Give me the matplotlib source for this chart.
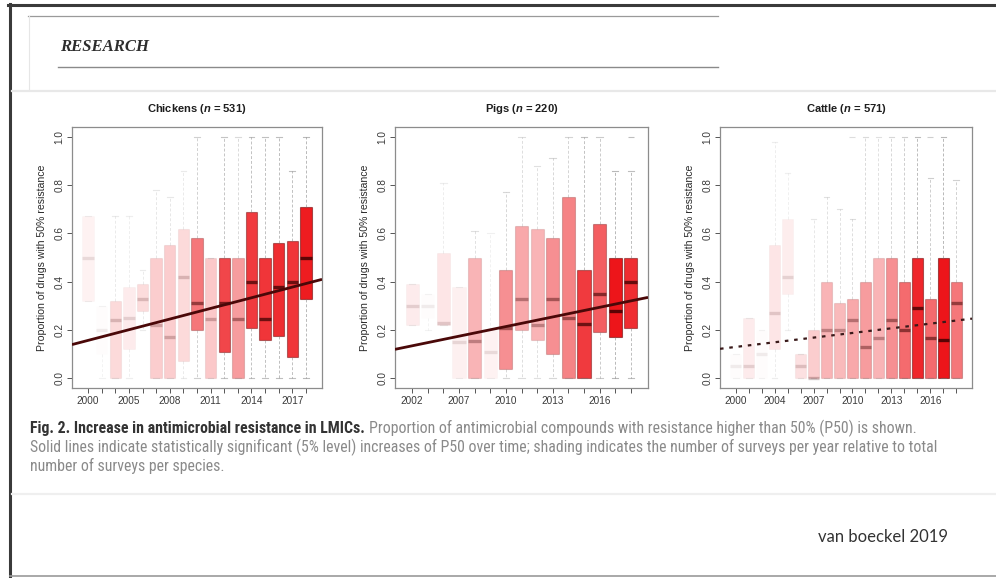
import matplotlib
matplotlib.use('Agg')
import matplotlib.pyplot as plt
from matplotlib.lines import Line2D
from matplotlib import font_manager
import numpy as np

W, H = 996, 578

# ---------------- data ----------------
chick_years = ['2000', '2003', '2004', '2005', '2006', '2007', '2008', '2009', '2010',
               '2011', '2012', '2013', '2014', '2015', '2016', '2017', '2018']
chick_lo    = [0.32, 0.00, 0.00, 0.00, 0.20, 0.00, 0.00, 0.00, 0.00, 0.00, 0.00, 0.00, 0.00, 0.00, 0.00, 0.00, 0.00]
chick_q1    = [0.32, 0.10, 0.00, 0.12, 0.28, 0.00, 0.00, 0.07, 0.20, 0.00, 0.11, 0.00, 0.21, 0.16, 0.175, 0.09, 0.33]
chick_med   = [0.50, 0.20, 0.24, 0.25, 0.33, 0.22, 0.17, 0.42, 0.31, 0.245, 0.31, 0.245, 0.40, 0.245, 0.38, 0.40, 0.50]
chick_q3    = [0.67, 0.30, 0.32, 0.38, 0.39, 0.50, 0.55, 0.62, 0.58, 0.50, 0.50, 0.50, 0.69, 0.50, 0.56, 0.57, 0.71]
chick_hi    = [0.67, 0.30, 0.67, 0.67, 0.45, 0.78, 0.75, 0.86, 1.00, 0.50, 1.00, 1.00, 1.00, 1.00, 1.00, 0.86, 1.00]
chick_out   = [[], [], [], [], [], [], [], [], [], [], [], [], [], [], [], [], []]
chick_shade = [0.05, 0.01, 0.15, 0.08, 0.14, 0.20, 0.20, 0.15, 0.55, 0.22, 0.75, 0.40, 0.80, 0.82, 0.85, 0.82, 0.92]
chick_trend = (0.157, 0.0147)     # fitted P50 at first position, slope per position

pig_years = ['2002', '2004', '2006', '2007', '2008', '2009', '2010', '2011', '2012',
             '2013', '2014', '2015', '2016', '2017', '2018']
pig_lo    = [0.22, 0.20, 0.22, 0.00, 0.00, 0.00, 0.00, 0.00, 0.00, 0.00, 0.00, 0.00, 0.00, 0.00, 0.00]
pig_q1    = [0.22, 0.25, 0.22, 0.00, 0.00, 0.00, 0.04, 0.20, 0.16, 0.10, 0.00, 0.00, 0.19, 0.17, 0.21]
pig_med   = [0.30, 0.30, 0.23, 0.15, 0.155, 0.11, 0.21, 0.33, 0.22, 0.33, 0.25, 0.225, 0.35, 0.28, 0.40]
pig_q3    = [0.39, 0.35, 0.52, 0.38, 0.50, 0.20, 0.45, 0.63, 0.62, 0.58, 0.75, 0.45, 0.64, 0.50, 0.50]
pig_hi    = [0.39, 0.35, 0.81, 0.38, 0.61, 0.60, 0.77, 1.00, 0.88, 0.91, 1.00, 1.00, 1.00, 0.86, 0.86]
pig_out   = [[], [], [], [], [], [], [], [], [], [], [], [], [], [], [1.0]]
pig_shade = [0.08, 0.01, 0.10, 0.06, 0.30, 0.05, 0.45, 0.35, 0.30, 0.45, 0.50, 0.80, 0.65, 0.95, 0.85]
pig_trend = (0.1346, 0.01327)

cattle_years = ['2000', '2002', '2003', '2004', '2005', '2006', '2007', '2008', '2009',
                '2010', '2011', '2012', '2013', '2014', '2015', '2016', '2017', '2018']
cattle_lo    = [0.00, 0.00, 0.00, 0.00, 0.20, 0.00, 0.00, 0.00, 0.00, 0.00, 0.00, 0.00, 0.00, 0.00, 0.00, 0.00, 0.00, 0.00]
cattle_q1    = [0.00, 0.00, 0.00, 0.12, 0.35, 0.00, 0.00, 0.00, 0.00, 0.00, 0.00, 0.00, 0.00, 0.00, 0.00, 0.00, 0.00, 0.00]
cattle_med   = [0.05, 0.05, 0.10, 0.27, 0.42, 0.05, 0.00, 0.20, 0.20, 0.24, 0.13, 0.165, 0.24, 0.20, 0.29, 0.165, 0.16, 0.31]
cattle_q3    = [0.10, 0.25, 0.20, 0.55, 0.66, 0.10, 0.20, 0.40, 0.31, 0.33, 0.40, 0.50, 0.50, 0.40, 0.50, 0.33, 0.50, 0.40]
cattle_hi    = [0.10, 0.25, 0.20, 0.98, 0.85, 0.10, 0.66, 0.75, 0.70, 0.66, 1.00, 1.00, 1.00, 1.00, 1.00, 0.83, 1.00, 0.82]
cattle_out   = [[], [], [], [], [], [], [], [], [], [1.0], [], [], [], [], [], [1.0], [], []]
cattle_shade = [0.01, 0.08, 0.01, 0.10, 0.07, 0.12, 0.20, 0.30, 0.28, 0.35, 0.40, 0.30, 0.45, 0.60, 0.88, 0.60, 0.95, 0.55]
cattle_trend = (0.130, 0.00642)

panel_titles = ['Chickens', 'Pigs', 'Cattle']
panel_n = [531, 220, 571]
trend_significant = [True, True, False]
y_ticks = [0.0, 0.2, 0.4, 0.6, 0.8, 1.0]
y_label = 'Proportion of drugs with 50% resistance'

caption_bold = 'Fig. 2. Increase in antimicrobial resistance in LMICs.'
caption_rest1 = 'Proportion of antimicrobial compounds with resistance higher than 50% (P50) is shown.'
caption_line2 = ('Solid lines indicate statistically significant (5% level) increases of P50 over time; '
                 'shading indicates the number of surveys per year relative to total')
caption_line3 = 'number of surveys per species.'
credit = 'van boeckel 2019'

# ---------------- fonts ----------------
names = {f.name for f in font_manager.fontManager.ttflist}
base_font = 'Liberation Sans' if 'Liberation Sans' in names else 'DejaVu Sans'
cap_font = base_font
for cand in ['Liberation Sans Narrow', 'Roboto Condensed', 'Open Sans Condensed', 'DejaVu Sans Condensed']:
    if cand in names:
        cap_font = cand
        break
credit_font = 'Lato' if 'Lato' in names else base_font
serif_font = 'Liberation Serif' if 'Liberation Serif' in names else 'DejaVu Serif'

plt.rcParams['font.family'] = [base_font, 'DejaVu Sans']
plt.rcParams['mathtext.fontset'] = 'custom'
plt.rcParams['mathtext.it'] = base_font + ':bold:italic'
plt.rcParams['mathtext.rm'] = base_font + ':bold'

fig = plt.figure(figsize=(W / 100, H / 100), dpi=100)
fig.patch.set_facecolor('white')


def fx(x):
    return x / W


def fy(y):
    return 1 - y / H


def hline(x0, x1, y, color, lw):
    fig.add_artist(Line2D([fx(x0), fx(x1)], [fy(y), fy(y)], transform=fig.transFigure,
                          color=color, lw=lw))


def vline(x, y0, y1, color, lw):
    fig.add_artist(Line2D([fx(x), fx(x)], [fy(y0), fy(y1)], transform=fig.transFigure,
                          color=color, lw=lw))


# ---------------- slide decorations ----------------
hline(8, 996, 5, '#3a3a3a', 2.2)
vline(10, 4, 578, '#3a3a3a', 2.2)
hline(10, 996, 576, '#9a9a9a', 1.2)
hline(28, 718, 16, '#9a9a9a', 0.9)
vline(29, 16, 90, '#e6e6e6', 0.8)
hline(58, 718, 67, '#8a8a8a', 1.0)
hline(12, 996, 91, '#e8e8e8', 1.6)
hline(12, 996, 494, '#efefef', 1.6)
fig.text(fx(60), fy(47), 'RESEARCH', family=serif_font, fontweight='bold', style='italic',
         fontsize=12, color='#2e2e2e', va='center', ha='left')

# ---------------- panels ----------------
panels = [
    (chick_years, chick_lo, chick_q1, chick_med, chick_q3, chick_hi, chick_out, chick_shade, chick_trend, (72, 322)),
    (pig_years, pig_lo, pig_q1, pig_med, pig_q3, pig_hi, pig_out, pig_shade, pig_trend, (395, 648)),
    (cattle_years, cattle_lo, cattle_q1, cattle_med, cattle_q3, cattle_hi, cattle_out, cattle_shade, cattle_trend, (720, 972)),
]
ax_top, ax_bot = 127, 388
base_red = np.array([0.93, 0.03, 0.05])

for k, (yrs, lo, q1, med, q3, hi, out, shade, trend, (xl, xr)) in enumerate(panels):
    ax = fig.add_axes([fx(xl), fy(ax_bot), (xr - xl) / W, (ax_bot - ax_top) / H])
    n = len(yrs)
    pos = np.arange(1, n + 1)
    stats = [dict(med=med[i], q1=q1[i], q3=q3[i], whislo=lo[i], whishi=hi[i], fliers=out[i])
             for i in range(n)]
    bp = ax.bxp(stats, positions=pos, widths=0.84, patch_artist=True, showfliers=True,
                capwidths=0.42)
    for i in range(n):
        a = shade[i]
        box = bp['boxes'][i]
        box.set_facecolor((*base_red, a))
        box.set_edgecolor((0.4, 0.0, 0.0, min(1, 0.6 * a ** 1.3)))
        box.set_linewidth(0.8)
        m = bp['medians'][i]
        m.set_color((0.22, 0.0, 0.0, min(1, 0.06 + 0.8 * a)))
        m.set_linewidth(2.4)
        m.set_solid_capstyle('butt')
        wcol = (0.45, 0.45, 0.45, 0.08 + 0.45 * a)
        for w in bp['whiskers'][2 * i:2 * i + 2]:
            w.set_color(wcol)
            w.set_linewidth(0.7)
            w.set_linestyle((0, (3, 2)))
        for c in bp['caps'][2 * i:2 * i + 2]:
            c.set_color(wcol)
            c.set_linewidth(0.8)
        f = bp['fliers'][i]
        f.set_marker('_')
        f.set_markersize(4)
        f.set_markeredgecolor(wcol)
        f.set_markeredgewidth(0.8)

    pad = 0.04 * n
    xlim = (0.5 - pad, n + 0.5 + pad)
    ax.set_xlim(*xlim)
    ax.set_ylim(-0.04, 1.04)

    xs = np.array(xlim)
    ys = trend[0] + trend[1] * (xs - 1)
    if trend_significant[k]:
        ax.plot(xs, ys, color='#4a0808', lw=2.0, zorder=5, solid_capstyle='butt')
    else:
        ax.plot(xs, ys, color='#3a1a1a', lw=1.6, zorder=5, linestyle=(0, (1.6, 2.6)))

    ax.set_xticks(pos)
    ax.set_xticklabels([y if (i % 3 == 0) else '' for i, y in enumerate(yrs)])
    ax.set_yticks(y_ticks)
    ax.set_yticklabels(['%.1f' % v for v in y_ticks], rotation=90, va='center')
    ax.tick_params(axis='both', labelsize=7.2, colors='#555555', labelcolor='#3a3a3a',
                   length=3.5, width=0.7, direction='out')
    ax.tick_params(axis='x', pad=2)
    ax.tick_params(axis='y', pad=2)
    for s in ax.spines.values():
        s.set_color('#8c8c8c')
        s.set_linewidth(0.9)
    ax.set_ylabel(y_label, fontsize=7.6, color='#2a2a2a', labelpad=5)
    ax.set_title(panel_titles[k] + r' ($\mathit{n}$ = %d)' % panel_n[k], fontsize=8,
                 fontweight='bold', color='#1e1e1e', pad=11)

# ---------------- caption ----------------
renderer = fig.canvas.get_renderer()
cap_size = 9.0
probe = fig.text(fx(30), fy(447), caption_line2, family=cap_font, fontsize=cap_size,
                 color='#8a8a8a', va='center', ha='left')
bb = probe.get_window_extent(renderer)
cap_size = cap_size * 914.0 / bb.width
probe.set_fontsize(cap_size)

t1 = fig.text(fx(30), fy(428), caption_bold, family=cap_font, fontsize=cap_size,
              fontweight='bold', color='#333333', va='center', ha='left')
bb1 = t1.get_window_extent(renderer)
fig.text(fx(bb1.x1 + 4), fy(428), caption_rest1, family=cap_font, fontsize=cap_size,
         color='#8a8a8a', va='center', ha='left')
fig.text(fx(30), fy(466), caption_line3, family=cap_font, fontsize=cap_size,
         color='#8a8a8a', va='center', ha='left')

fig.text(fx(818), fy(537), credit, family=credit_font, fontsize=12, color='#333333',
         va='center', ha='left')

fig.savefig('out.png', dpi=100, facecolor='white')
